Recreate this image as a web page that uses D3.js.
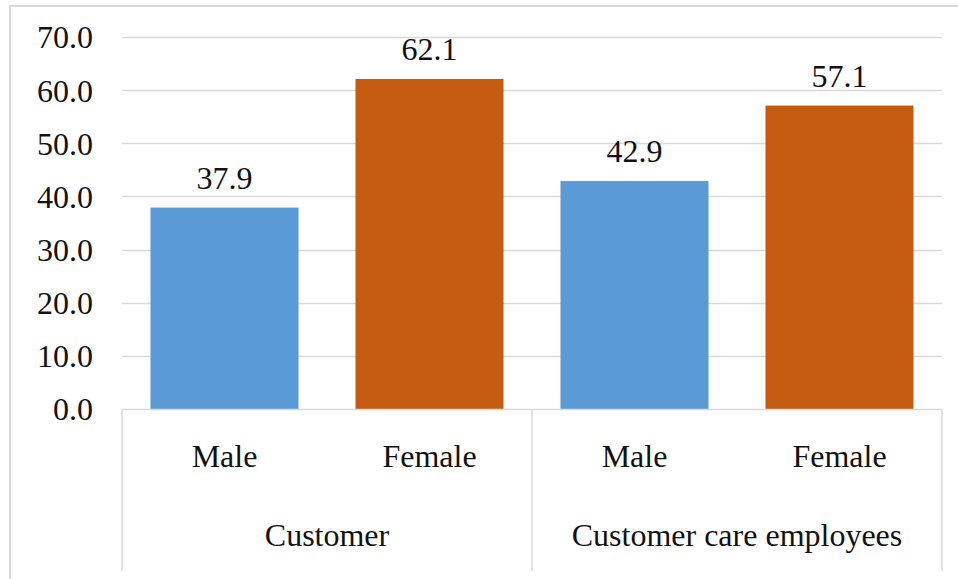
<!DOCTYPE html>
<html>
<head>
<meta charset="utf-8">
<script src="https://cdn.jsdelivr.net/npm/d3@7"></script>
<style>
  html, body { margin: 0; padding: 0; background: #fff; }
  svg { display: block; }
  text { font-family: "Liberation Serif", "Times New Roman", serif; fill: #111; }
</style>
</head>
<body>
<svg id="chart" width="958" height="579"></svg>
<script>
// Share of respondents by gender within each group (%)
const groups = ["Customer", "Customer care employees"];
const genders = ["Male", "Female"];
const customerValues = [37.9, 62.1];
const employeeValues = [42.9, 57.1];
const yTicks = [0, 10, 20, 30, 40, 50, 60, 70];
const barColors = ["#5B9BD5", "#C55A11"];

const rows = [];
groups.forEach((g, gi) => {
  const vals = gi === 0 ? customerValues : employeeValues;
  genders.forEach((s, si) => rows.push({ group: g, gender: s, key: g + "|" + s, value: vals[si], si }));
});

const svg = d3.select("#chart");
const W = 958, H = 579;
const plot = { left: 122, right: 942, top: 37, bottom: 409 };
const gridColor = "#d9d9d9";
const fontSize = 32;

// outer chart frame (runs off the right and bottom edges)
svg.append("rect")
  .attr("x", 10).attr("y", 6)
  .attr("width", W + 20).attr("height", H + 20)
  .attr("fill", "none").attr("stroke", "#d9d9d9").attr("stroke-width", 2);

const y = d3.scaleLinear().domain([0, 70]).range([plot.bottom, plot.top]);
const xGroup = d3.scaleBand().domain(groups).range([plot.left, plot.right]);
const x = d3.scaleBand().domain(rows.map(d => d.key))
  .range([plot.left, plot.right]).paddingInner(0.278).paddingOuter(0.139);

// horizontal gridlines
svg.append("g").selectAll("line").data(yTicks.filter(t => t > 0)).join("line")
  .attr("x1", plot.left).attr("x2", plot.right)
  .attr("y1", d => Math.round(y(d)) + 0.5).attr("y2", d => Math.round(y(d)) + 0.5)
  .attr("stroke", gridColor).attr("stroke-width", 1.3);

// y axis labels
const yAxis = d3.axisLeft(y).tickValues(yTicks).tickFormat(d3.format(".1f")).tickSize(0).tickPadding(0);
const ya = svg.append("g").attr("transform", `translate(${plot.left - 29},0)`).call(yAxis);
ya.select(".domain").remove();
ya.selectAll("text").attr("font-size", fontSize).attr("fill", "#111")
  .attr("font-family", "Liberation Serif, serif").attr("dy", "0.34em");

// bars
svg.append("g").selectAll("rect").data(rows).join("rect")
  .attr("x", d => x(d.key)).attr("width", x.bandwidth())
  .attr("y", d => y(d.value)).attr("height", d => y(0) - y(d.value))
  .attr("fill", d => barColors[d.si]);

// value labels
svg.append("g").selectAll("text").data(rows).join("text")
  .attr("x", d => x(d.key) + x.bandwidth() / 2)
  .attr("y", d => y(d.value) - 19)
  .attr("text-anchor", "middle").attr("font-size", fontSize)
  .text(d => d3.format(".1f")(d.value));

// category axis baseline and group separators
const ax = svg.append("g").attr("stroke", gridColor).attr("stroke-width", 1.5);
ax.append("line").attr("x1", plot.left).attr("x2", plot.right)
  .attr("y1", plot.bottom + 0.5).attr("y2", plot.bottom + 0.5);
const seps = groups.map(g => xGroup(g)).concat([plot.right]);
ax.selectAll(".sep").data(seps).join("line").attr("class", "sep")
  .attr("x1", d => d).attr("x2", d => d)
  .attr("y1", plot.bottom).attr("y2", 571);

// gender labels
svg.append("g").selectAll("text").data(rows).join("text")
  .attr("x", d => x(d.key) + x.bandwidth() / 2)
  .attr("y", 467)
  .attr("text-anchor", "middle").attr("font-size", fontSize)
  .text(d => d.gender);

// group labels
svg.append("g").selectAll("text").data(groups).join("text")
  .attr("x", d => xGroup(d) + xGroup.bandwidth() / 2)
  .attr("y", 546)
  .attr("text-anchor", "middle").attr("font-size", fontSize)
  .text(d => d);
</script>
</body>
</html>
